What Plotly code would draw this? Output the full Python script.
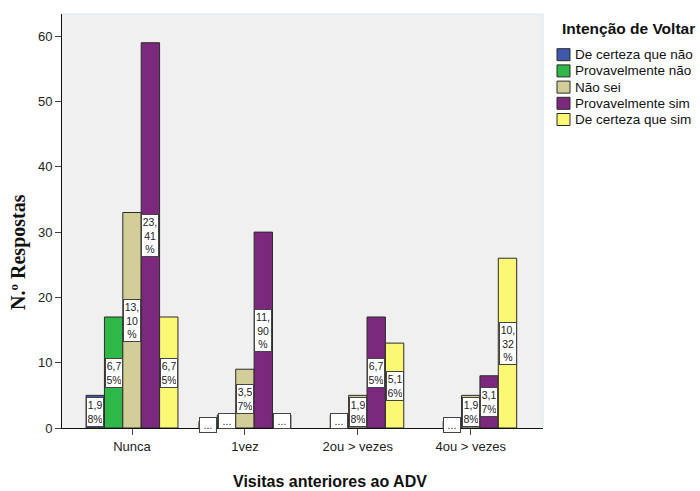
import plotly.graph_objects as go

# Visits (x categories) and intention series
categories = ["Nunca", "1vez", "2ou > vezes", "4ou > vezes"]
series_names = ["De certeza que não", "Provavelmente não", "Não sei",
                "Provavelmente sim", "De certeza que sim"]
certeza_nao = [5, 1, 0, 0]
provavelmente_nao = [17, 2, 2, 1]
nao_sei = [33, 9, 5, 5]
provavelmente_sim = [59, 30, 17, 8]
certeza_sim = [17, 2, 13, 26]
y_ticks = [0, 10, 20, 30, 40, 50, 60]

series_values = [certeza_nao, provavelmente_nao, nao_sei, provavelmente_sim, certeza_sim]
colors = ["#3E58AC", "#2EB848", "#D3CE97", "#7C287D", "#FBF873"]

total = sum(sum(s) for s in series_values)

# figure and plot-area geometry in pixels
W, H = 700, 491
L, R, T, B = 62, 157, 14, 63
plot_w = W - L - R
plot_h = H - T - B


def px_x(px):
    return (px - L) / plot_w


def px_y(py):
    return (H - B - py) / plot_h


bargap = 0.186
n_series = len(series_values)
bar_w = (1 - bargap) / n_series

fig = go.Figure()
x_idx = list(range(len(categories)))
for name, vals, col in zip(series_names, series_values, colors):
    fig.add_trace(go.Bar(
        x=x_idx, y=vals, name=name, showlegend=False,
        marker=dict(color=col,
                    line=dict(color="#2b2b2b", width=[1 if v > 0 else 0 for v in vals])),
    ))

# approximate glyph widths at 10px for wrapping the value labels
CHAR_W = {",": 2.8, "%": 8.9}
MAX_LINE = 15.0


def pct_label(v):
    if v < 3:
        return "..."
    s = f"{v / total * 100:.2f}".replace(".", ",") + "%"
    lines, cur, w = [], "", 0.0
    for ch in s:
        cw = CHAR_W.get(ch, 5.6)
        if cur and w + cw > MAX_LINE:
            lines.append(cur)
            cur, w = "", 0.0
        cur += ch
        w += cw
    lines.append(cur)
    return "<br>".join(lines)


annotations = []
for si, vals in enumerate(series_values):
    off = (si - (n_series - 1) / 2) * bar_w
    for gi, v in enumerate(vals):
        if v <= 0:
            continue
        annotations.append(dict(
            x=gi + off, y=v / 2, xref="x", yref="y",
            text=pct_label(v), showarrow=False,
            font=dict(family="Liberation Sans, Arial", size=10.5, color="#222"),
            bgcolor="white", bordercolor="#444", borderwidth=1, borderpad=1,
            align="center", width=14,
        ))

# axis titles
annotations.append(dict(
    x=px_x(330), y=px_y(481), xref="paper", yref="paper",
    text="<b>Visitas anteriores ao ADV</b>", showarrow=False,
    font=dict(family="Liberation Sans, Arial", size=16, color="#111"),
    xanchor="center", yanchor="middle",
))
annotations.append(dict(
    x=px_x(18), y=px_y(252), xref="paper", yref="paper",
    text="<b>N.º Respostas</b>", showarrow=False, textangle=-90,
    font=dict(family="Liberation Serif, Times New Roman", size=20, color="#111"),
    xanchor="center", yanchor="middle",
))

# legend: title, colour swatches and names
shapes = [
    dict(type="line", xref="paper", yref="paper", x0=0, x1=1, y0=1, y1=1,
         line=dict(color="#D4EAF0", width=1), layer="below"),
    dict(type="line", xref="paper", yref="paper", x0=1, x1=1, y0=0, y1=1,
         line=dict(color="#D4EAF0", width=1), layer="below"),
]
annotations.append(dict(
    x=px_x(560), y=px_y(28.3), xref="paper", yref="paper",
    text="<b>Intenção de Voltar</b>", showarrow=False,
    font=dict(family="Liberation Sans, Arial", size=15.5, color="#111"),
    xanchor="left", yanchor="middle",
))
legend_top, legend_step = 54.7, 16.2
sw_w, sw_h = 13, 12
for i, (name, col) in enumerate(zip(series_names, colors)):
    cy = legend_top + i * legend_step
    shapes.append(dict(
        type="rect", xref="paper", yref="paper",
        x0=px_x(557), x1=px_x(557 + sw_w), y0=px_y(cy - sw_h / 2), y1=px_y(cy + sw_h / 2),
        fillcolor=col, line=dict(color="#2b2b2b", width=1),
    ))
    annotations.append(dict(
        x=px_x(573), y=px_y(cy), xref="paper", yref="paper",
        text=name, showarrow=False,
        font=dict(family="Liberation Sans, Arial", size=13.5, color="#111"),
        xanchor="left", yanchor="middle",
    ))

fig.update_layout(
    width=W, height=H,
    margin=dict(l=L, r=R, t=T, b=B),
    paper_bgcolor="white", plot_bgcolor="#F0F0F0",
    barmode="group", bargap=bargap, bargroupgap=0,
    font=dict(family="Liberation Sans, Arial", size=13, color="#222"),
    showlegend=False,
    xaxis=dict(
        range=[-0.62, 3.64], tickmode="array", tickvals=x_idx, ticktext=categories,
        ticks="outside", ticklen=6, tickcolor="#444", showgrid=False, zeroline=False,
        showline=True, linecolor="#111", linewidth=1,
        tickfont=dict(size=13, color="#222"),
    ),
    yaxis=dict(
        range=[0, 63.4], tickvals=y_ticks, ticks="outside", ticklen=6, tickcolor="#444",
        showgrid=False, zeroline=False, showline=True, linecolor="#111", linewidth=1,
        tickfont=dict(size=13, color="#222"),
    ),
    annotations=annotations,
    shapes=shapes,
)

fig.write_html("out.html")
